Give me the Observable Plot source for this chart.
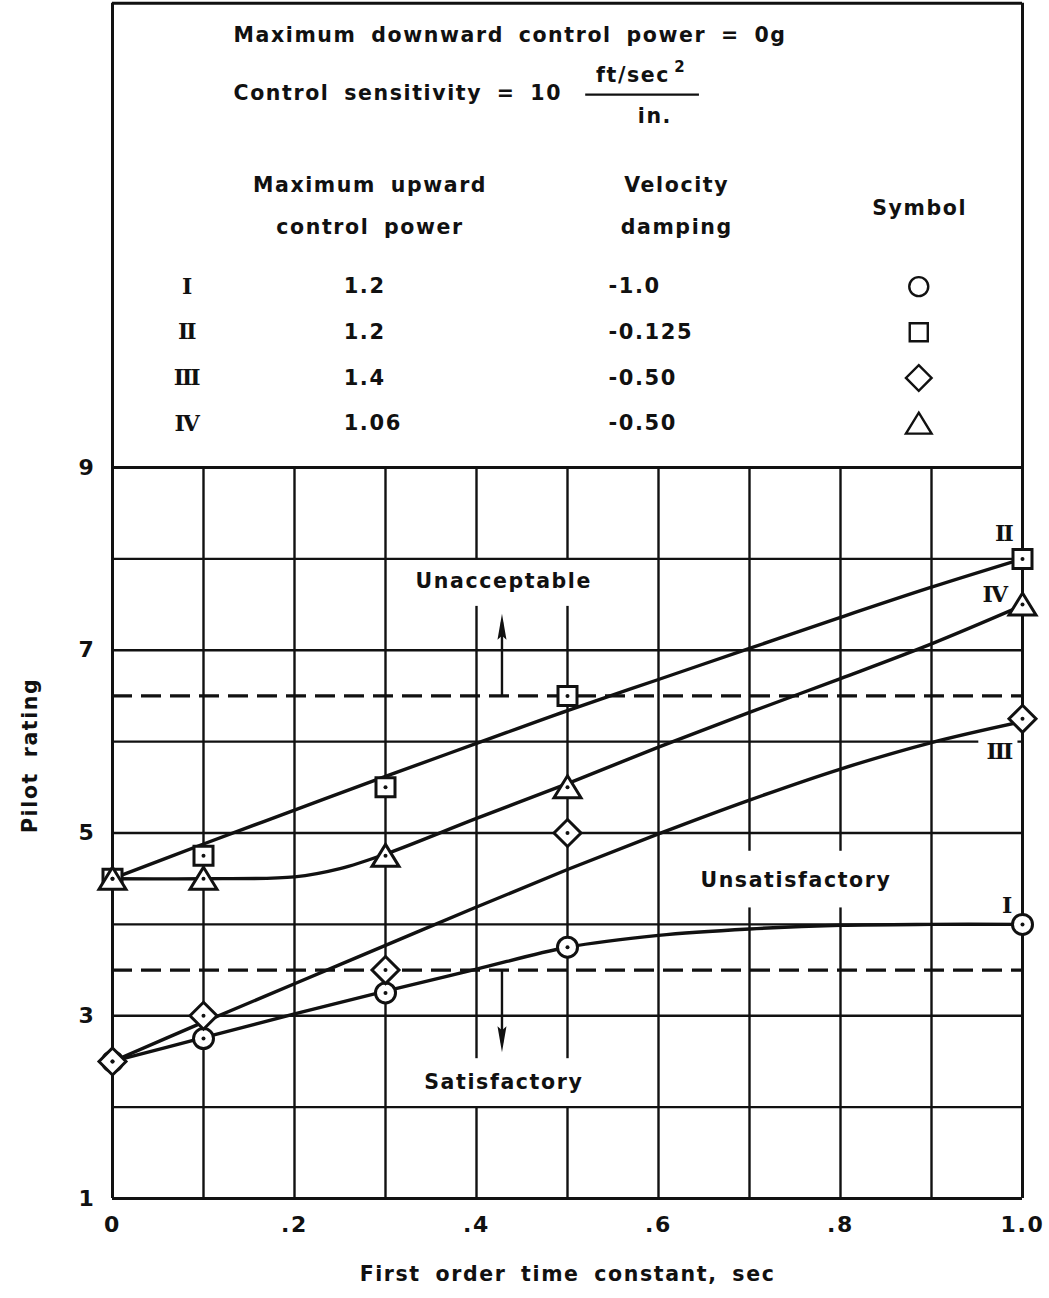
<!DOCTYPE html>
<html><head><meta charset="utf-8">
<script src="https://cdn.jsdelivr.net/npm/d3@7"></script>
<script src="https://cdn.jsdelivr.net/npm/@observablehq/plot@0.6"></script>
<style>
body{margin:0;background:#fff;}
#chart svg text{letter-spacing:1.6px;word-spacing:6px;}
</style></head><body><div id="chart"></div>
<script>
// ---------- data ----------
const xTicks = [0, 0.2, 0.4, 0.6, 0.8, 1.0];
const xTickLabels = ["0", ".2", ".4", ".6", ".8", "1.0"];
const yTicks = [1, 3, 5, 7, 9];
const yTickLabels = ["1", "3", "5", "7", "9"];
const xGrid = [0.1, 0.2, 0.3, 0.4, 0.5, 0.6, 0.7, 0.8, 0.9];
const yGrid = [2, 3, 4, 5, 6, 7, 8];
const boundaries = [3.5, 6.5];

const seriesNames = ["I", "II", "III", "IV"];
const upwardPower = ["1.2", "1.2", "1.4", "1.06"];
const velocityDamping = ["-1.0", "-0.125", "-0.50", "-0.50"];

const timeConstant = [0, 0.1, 0.3, 0.5, 1.0];
const ratingI = [2.5, 2.75, 3.25, 3.75, 4.0];
const ratingII = [4.5, 4.75, 5.5, 6.5, 8.0];
const ratingIII = [2.5, 3.0, 3.5, 5.0, 6.25];
const ratingIV = [4.5, 4.5, 4.75, 5.5, 7.5];

// faired curves
const fairX = [0, 0.1, 0.2, 0.3, 0.4, 0.5, 0.6, 0.7, 0.8, 0.9, 1.0];
const fairI = [2.5, 2.76, 3.02, 3.27, 3.51, 3.75, 3.88, 3.95, 3.99, 4.0, 4.0];
const fairII = [4.5, 4.88, 5.25, 5.62, 5.98, 6.34, 6.68, 7.02, 7.36, 7.69, 8.0];
const fairIII = [2.5, 2.93, 3.35, 3.77, 4.19, 4.6, 4.99, 5.36, 5.7, 5.99, 6.22];
const fairIVx = [0, 0.1, 0.2, 0.25, 0.3, 0.4, 0.5, 0.6, 0.7, 0.8, 0.9, 1.0];
const fairIV = [4.5, 4.5, 4.52, 4.61, 4.77, 5.16, 5.54, 5.94, 6.32, 6.69, 7.07, 7.49];

const headerLine1 = "Maximum downward control power = 0g";
const headerLine2 = "Control sensitivity = 10";
const unitNum = "ft/sec";
const unitExp = "2";
const unitDen = "in.";
const colHeads = [["Maximum upward", "control power"], ["Velocity", "damping"], ["Symbol"]];
const regionLabels = ["Unacceptable", "Unsatisfactory", "Satisfactory"];
const xTitle = "First order time constant, sec";
const yTitle = "Pilot rating";

// ---------- layout (positions in chart units) ----------
const L = {
  frameTop: 14.08,
  line1: [0.133, 13.73], line2: [0.133, 13.09],
  num: [0.572, 13.29], exp: [0.624, 13.38], den: [0.596, 12.84], bar: [0.52, 0.645, 13.08],
  col1: [0.283, 12.09, 11.63], col2: [0.62, 12.09, 11.63], col3: [0.887, 11.83],
  rowY: [10.98, 10.48, 9.98, 9.48],
  romanX: 0.081, upX: 0.254, dampX: 0.545, symX: 0.886,
  regions: [[0.43, 7.75], [0.751, 4.48], [0.43, 2.27]],
  gaps: [[0.38, 0.52, 7.48, 8.0], [0.68, 0.82, 4.18, 4.8], [0.38, 0.52, 2.0, 2.53], [0.952, 0.995, 5.72, 6.06]],
  arrowX: 0.428, arrowUp: [6.5, 7.4], arrowDown: [3.5, 2.6],
  curveLabels: [[0.982, 4.2], [0.979, 8.27], [0.974, 5.89], [0.969, 7.6]]
};

// ---------- symbols ----------
const rad = s => Math.sqrt(s / Math.PI);
const symCircle = {draw(c, s) { const r = rad(s); c.moveTo(r, 0); c.arc(0, 0, r, 0, 2 * Math.PI); c.closePath(); }};
const symSquare = {draw(c, s) { const h = 0.95 * rad(s); c.moveTo(-h, -h); c.lineTo(h, -h); c.lineTo(h, h); c.lineTo(-h, h); c.closePath(); }};
const symDiamond = {draw(c, s) { const d = 1.35 * rad(s); c.moveTo(0, -d); c.lineTo(d, 0); c.lineTo(0, d); c.lineTo(-d, 0); c.closePath(); }};
const symTriangle = {draw(c, s) { const r = rad(s); c.moveTo(0, -1.15 * r); c.lineTo(1.35 * r, 1.05 * r); c.lineTo(-1.35 * r, 1.05 * r); c.closePath(); }};
const symArrowUp = {draw(c, s) { c.moveTo(0, 0); c.lineTo(4.5, 26); c.lineTo(0, 22); c.lineTo(-4.5, 26); c.closePath(); }};
const symArrowDown = {draw(c, s) { c.moveTo(0, 0); c.lineTo(4.5, -26); c.lineTo(0, -22); c.lineTo(-4.5, -26); c.closePath(); }};
const symbols = [symCircle, symSquare, symDiamond, symTriangle];

const ratings = [ratingI, ratingII, ratingIII, ratingIV];
const pts = ratings.map(r => timeConstant.map((x, i) => ({x, y: r[i]})));
const curves = [
  fairX.map((x, i) => ({x, y: fairI[i]})),
  fairX.map((x, i) => ({x, y: fairII[i]})),
  fairX.map((x, i) => ({x, y: fairIII[i]})),
  fairIVx.map((x, i) => ({x, y: fairIV[i]}))
];
const allPts = pts.flat();

const table = seriesNames.map((s, i) => ({s, up: upwardPower[i], damp: velocityDamping[i], y: L.rowY[i]}));
const xLabel = new Map(xTicks.map((d, i) => [d, xTickLabels[i]]));
const yLabel = new Map(yTicks.map((d, i) => [d, yTickLabels[i]]));

const B = {fontWeight: "bold", fontFamily: "DejaVu Sans"};
const R = {fontWeight: "bold", fontFamily: "DejaVu Serif"};
const ink = "#111";
const FS = 20.5;

const marks = [
  Plot.ruleX(xGrid, {y1: 1, y2: 9, stroke: ink, strokeWidth: 2.4}),
  Plot.rect(L.gaps.slice(0, 3), {x1: d => d[0], x2: d => d[1], y1: d => d[2], y2: d => d[3], fill: "white"}),
  Plot.ruleY(yGrid, {x1: 0, x2: 1, stroke: ink, strokeWidth: 2.4}),
  Plot.rect([L.gaps[3]], {x1: d => d[0], x2: d => d[1], y1: d => d[2], y2: d => d[3], fill: "white"}),
  Plot.ruleY(boundaries, {x1: 0, x2: 1, stroke: ink, strokeWidth: 3.2, strokeDasharray: "20,9"}),
  Plot.ruleX([0, 1], {y1: 1, y2: L.frameTop, stroke: ink, strokeWidth: 3}),
  Plot.ruleY([1, 9, L.frameTop], {x1: 0, x2: 1, stroke: ink, strokeWidth: 3}),
  Plot.ruleX([L.arrowX], {y1: L.arrowUp[0], y2: L.arrowUp[1] - 0.1, stroke: ink, strokeWidth: 2.4}),
  Plot.ruleX([L.arrowX], {y1: L.arrowDown[0], y2: L.arrowDown[1] + 0.1, stroke: ink, strokeWidth: 2.4}),
  Plot.dot([L.arrowX], {x: d => d, y: L.arrowUp[1], symbol: symArrowUp, r: 5, fill: ink, stroke: "none"}),
  Plot.dot([L.arrowX], {x: d => d, y: L.arrowDown[1], symbol: symArrowDown, r: 5, fill: ink, stroke: "none"}),
  ...curves.map(c => Plot.line(c, {x: "x", y: "y", curve: "catmull-rom", stroke: ink, strokeWidth: 3.4})),
  ...pts.map((p, i) => Plot.dot(p, {x: "x", y: "y", symbol: symbols[i], r: 10, fill: "white", stroke: ink, strokeWidth: 3})),
  Plot.dot(allPts, {x: "x", y: "y", r: 2, fill: ink, stroke: "none"}),
  Plot.text(regionLabels, {x: (d, i) => L.regions[i][0], y: (d, i) => L.regions[i][1], text: d => d, fontSize: FS, ...B}),
  Plot.text(seriesNames, {x: (d, i) => L.curveLabels[i][0], y: (d, i) => L.curveLabels[i][1], text: d => d, fontSize: 22, ...R}),
  Plot.text([headerLine1], {x: L.line1[0], y: L.line1[1], text: d => d, textAnchor: "start", fontSize: FS, ...B}),
  Plot.text([headerLine2], {x: L.line2[0], y: L.line2[1], text: d => d, textAnchor: "start", fontSize: FS, ...B}),
  Plot.text([unitNum], {x: L.num[0], y: L.num[1], text: d => d, fontSize: FS, ...B}),
  Plot.text([unitExp], {x: L.exp[0], y: L.exp[1], text: d => d, fontSize: 15, ...B}),
  Plot.text([unitDen], {x: L.den[0], y: L.den[1], text: d => d, fontSize: FS, ...B}),
  Plot.ruleY([L.bar[2]], {x1: L.bar[0], x2: L.bar[1], stroke: ink, strokeWidth: 2.2}),
  Plot.text(colHeads[0], {x: L.col1[0], y: (d, i) => L.col1[1 + i], text: d => d, fontSize: FS, ...B}),
  Plot.text(colHeads[1], {x: L.col2[0], y: (d, i) => L.col2[1 + i], text: d => d, fontSize: FS, ...B}),
  Plot.text(colHeads[2], {x: L.col3[0], y: L.col3[1], text: d => d, fontSize: FS, ...B}),
  Plot.text(table, {x: L.romanX, y: "y", text: "s", fontSize: 22, ...R}),
  Plot.text(table, {x: L.upX, y: "y", text: "up", textAnchor: "start", fontSize: 21, ...B}),
  Plot.text(table, {x: L.dampX, y: "y", text: "damp", textAnchor: "start", fontSize: 21, ...B}),
  ...table.map((t, i) => Plot.dot([t], {x: L.symX, y: "y", symbol: symbols[i], r: 9.5, fill: "none", stroke: ink, strokeWidth: 2.4})),
  Plot.axisX(xTicks, {tickSize: 0, tickPadding: 18, tickFormat: d => xLabel.get(d), fontSize: 22, ...B, label: null}),
  Plot.axisY(yTicks, {tickSize: 0, tickPadding: 17, tickFormat: d => yLabel.get(d), fontSize: 22, ...B, label: null}),
  Plot.text([xTitle], {frameAnchor: "bottom", dy: 82, text: d => d, fontSize: FS, ...B}),
  Plot.text([yTitle], {frameAnchor: "left", dx: -82, rotate: -90, text: d => d, fontSize: FS, ...B})
];

const chart = Plot.plot({
  width: 1049, height: 1298,
  marginLeft: 112, marginRight: 27, marginTop: 467, marginBottom: 100,
  x: {domain: [0, 1], axis: null},
  y: {domain: [1, 9], axis: null},
  style: {fontFamily: "DejaVu Sans", color: ink, background: "white"},
  marks
});
d3.select(chart).selectAll("text").filter(function() { return /^[IV]+$/.test(this.textContent); })
  .style("letter-spacing", "-2px");
document.getElementById("chart").appendChild(chart);
</script></body></html>
